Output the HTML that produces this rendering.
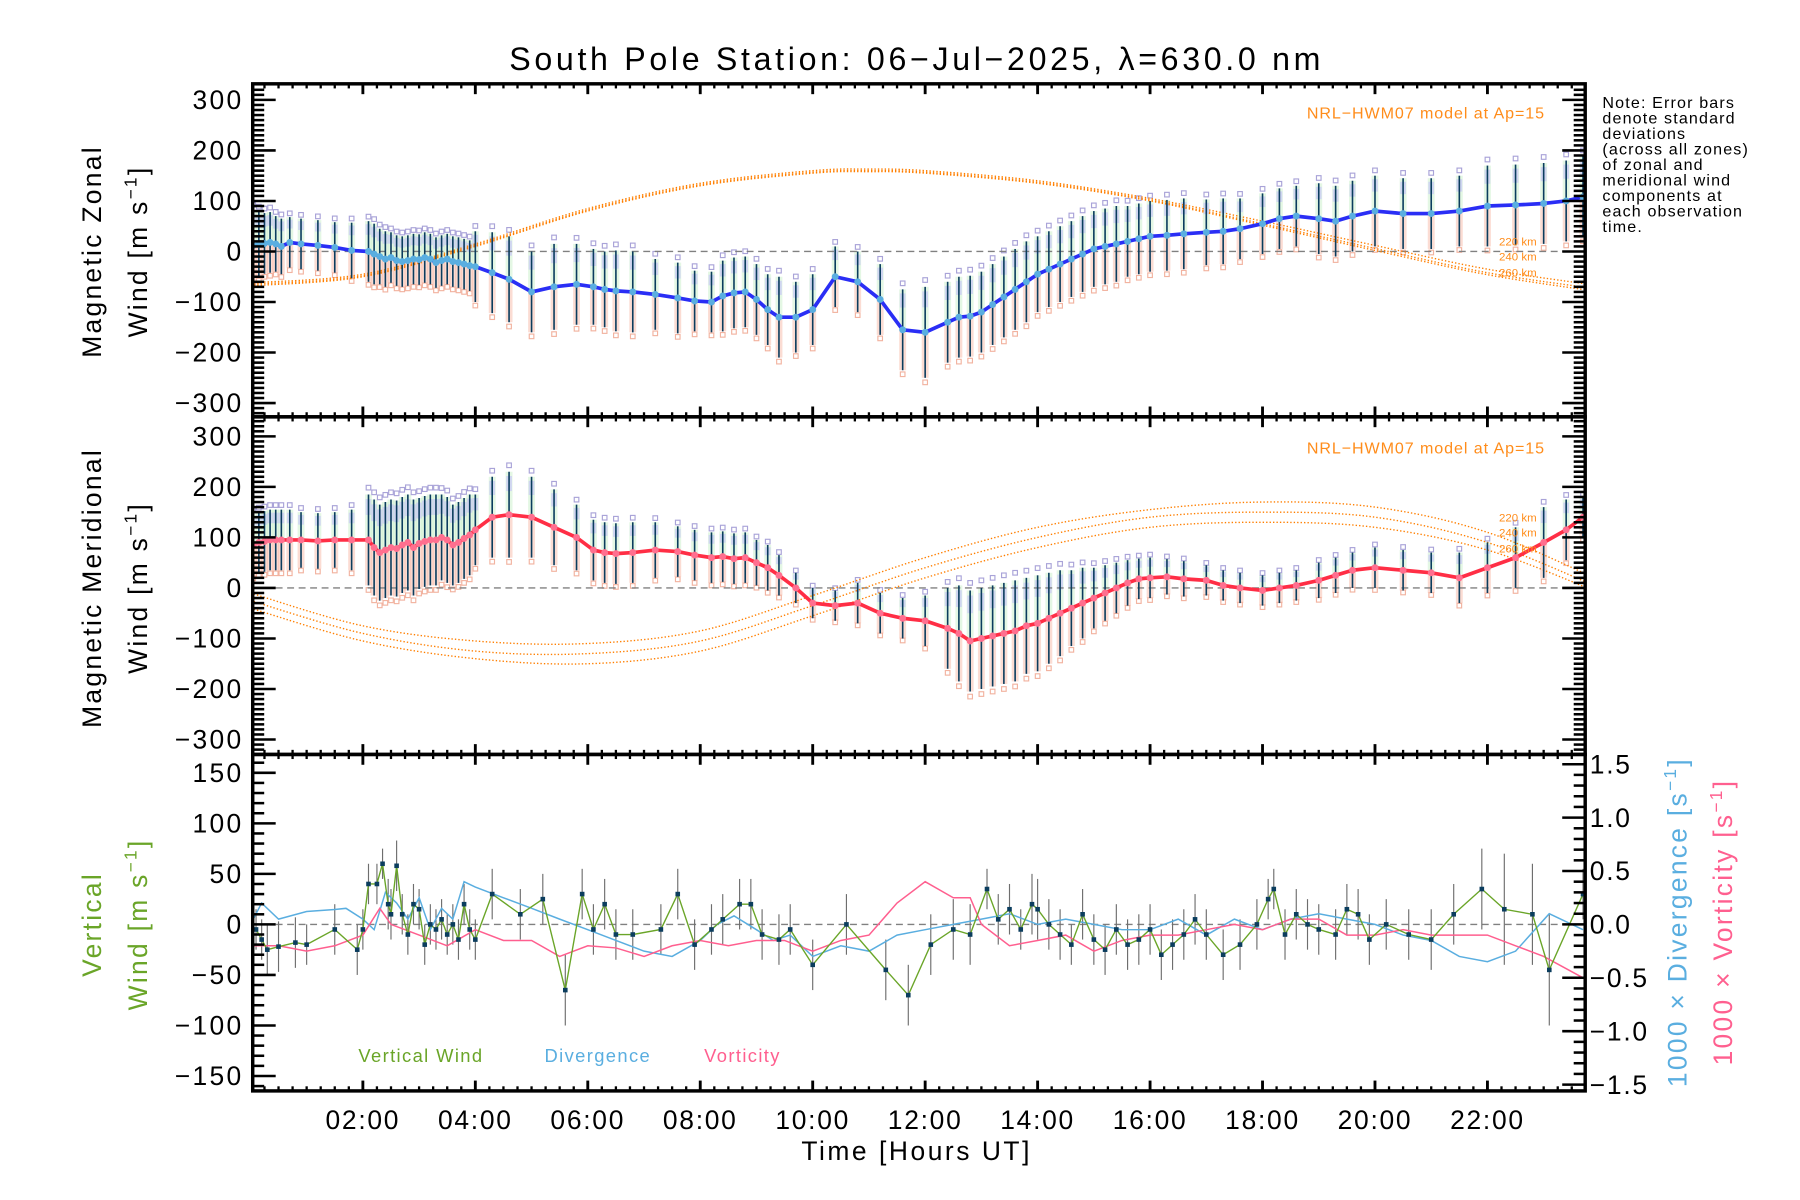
<!DOCTYPE html>
<html><head><meta charset="utf-8"><title>South Pole Station winds</title>
<style>
html,body{margin:0;padding:0;background:#fff;}
svg{display:block;font-family:"Liberation Sans",sans-serif;}
</style></head>
<body>
<svg id="chart" width="1800" height="1200" viewBox="0 0 1567 1045" preserveAspectRatio="none" xmlns="http://www.w3.org/2000/svg">
<rect x="0" y="0" width="1567" height="1045" fill="#fff"/>
<g id="layer"></g>
</svg>
<script>
// ---------- DATA ----------
var obsTimes = [0.05,0.15,0.25,0.35,0.45,0.55,0.7,0.9,1.2,1.5,
 1.8,2.1,2.2,2.3,2.4,2.5,2.6,2.7,2.8,2.9,
 3.0,3.1,3.2,3.3,3.4,3.5,3.6,3.7,3.8,3.9,
 4.0,4.3,4.6,5.0,5.4,5.8,6.1,6.3,6.5,6.8,
 7.2,7.6,7.9,8.2,8.4,8.6,8.8,9.0,9.2,9.4,
 9.7,10.0,10.4,10.8,11.2,11.6,12.0,12.4,12.6,12.8,
 13.0,13.2,13.4,13.6,13.8,14.0,14.2,14.4,14.6,14.8,
 15.0,15.2,15.4,15.6,15.8,16.0,16.3,16.6,17.0,17.3,
 17.6,18.0,18.3,18.6,19.0,19.3,19.6,20.0,20.5,21.0,
 21.5,22.0,22.5,23.0,23.4,23.7];
var zonalWind = [12,14,16,18,15,10,18,15,12,8,
 2,0,-5,-10,-15,-12,-18,-20,-18,-15,
 -16,-12,-15,-22,-18,-15,-20,-22,-25,-28,
 -30,-42,-55,-80,-70,-65,-70,-75,-78,-80,
 -85,-92,-98,-100,-88,-82,-80,-95,-115,-130,
 -130,-115,-50,-60,-95,-155,-160,-140,-130,-128,
 -120,-105,-90,-75,-60,-45,-35,-25,-15,-5,
 5,10,15,20,25,30,32,35,38,40,
 45,55,65,70,65,60,70,80,75,75,
 80,90,92,95,100,108];
var zonalErr = [70,65,60,60,55,55,50,50,50,50,
 55,60,60,55,55,50,50,50,50,50,
 50,50,50,50,50,50,50,50,50,50,
 70,80,85,80,85,80,75,75,80,80,
 70,70,60,60,70,70,70,70,70,80,
 70,70,60,60,70,80,90,80,80,80,
 80,80,80,80,80,75,75,75,75,75,
 75,75,75,70,70,70,70,70,65,65,
 60,60,60,60,70,70,70,70,70,70,
 70,80,80,80,80,80];
var meridWind = [85,90,92,95,95,95,95,95,93,95,
 95,95,80,70,75,80,78,85,90,80,
 88,92,95,95,100,95,85,90,98,105,
 115,140,145,140,120,100,75,70,68,70,
 75,72,65,60,62,58,60,50,40,25,
 0,-30,-35,-30,-50,-60,-65,-80,-90,-105,
 -100,-95,-90,-85,-75,-70,-60,-50,-40,-30,
 -20,-10,0,10,18,20,22,18,15,5,
 0,-5,0,5,15,25,35,40,35,30,
 20,40,60,90,115,140];
var meridErr = [60,60,60,60,60,60,60,55,55,55,
 60,90,95,95,95,95,95,95,95,95,
 90,90,90,90,85,85,80,80,80,80,
 70,80,85,80,75,65,60,60,60,60,
 55,50,50,50,50,50,50,45,45,40,
 30,30,30,40,40,40,50,80,95,100,
 100,100,100,100,95,95,90,85,75,70,
 60,55,50,45,40,40,35,35,30,30,
 30,30,30,30,35,35,35,40,40,40,
 50,50,60,70,60,40];

// HWM07 model curves
var modelHours = [0,2,4,6,8,10,11,12,14,16,18,20,22,24];
var hwmZonal220 = [-62,-45,15,85,135,160,163,160,140,105,60,12,-35,-68];
var hwmZonal240 = [-65,-48,12,82,132,157,160,157,137,102,55,6,-42,-75];
var hwmZonal260 = [-68,-50,10,80,130,155,158,155,135,100,52,2,-46,-80];
var modelHoursM = [0,2,4,6,8,10,12,14,16,18,20,22,24];
var hwmMerid220 = [-10,-75,-105,-110,-85,-15,60,120,155,170,160,110,15];
var hwmMerid240 = [-25,-90,-125,-130,-105,-35,40,100,140,150,140,90,0];
var hwmMerid260 = [-40,-105,-140,-150,-125,-55,20,80,120,130,120,75,-10];

// Vertical wind
var vertTimes = [0.1,0.2,0.3,0.5,0.8,1.0,1.5,1.9,2.0,2.1,2.25,2.35,2.45,2.5,2.6,2.7,2.8,2.9,3.0,3.1,3.2,3.3,3.4,3.5,3.6,3.7,3.8,3.9,4.0,4.3,4.8,5.2,5.6,5.9,6.1,6.3,6.5,6.8,7.3,7.6,7.9,8.2,8.4,8.7,8.9,9.1,9.4,9.6,10.0,10.6,11.3,11.7,12.1,12.5,12.8,13.1,13.3,13.5,13.7,13.9,14.0,14.2,14.4,14.6,14.8,15.0,15.2,15.4,15.6,15.8,16.0,16.2,16.4,16.6,16.8,17.0,17.3,17.6,17.9,18.1,18.2,18.4,18.6,18.8,19.0,19.3,19.5,19.7,19.9,20.2,20.6,21.0,21.4,21.9,22.3,22.8,23.1,23.7];
var vertWind = [-5,-15,-25,-22,-18,-20,-5,-25,-5,40,40,60,20,10,58,10,-10,20,15,-20,0,-5,5,-10,0,-15,20,-5,-15,30,10,25,-65,30,-5,20,-10,-10,-5,30,-20,-5,5,20,20,-10,-15,-5,-40,0,-45,-70,-20,-5,-10,35,5,15,-5,20,15,0,-10,-20,10,-15,-25,-5,-20,-15,-5,-30,-20,-10,5,-10,-30,-20,0,25,35,-10,10,0,-5,-10,15,10,-15,0,-10,-15,10,35,15,10,-45,30];
var vertErr = [20,20,25,25,25,20,25,25,20,20,20,15,25,25,25,20,20,20,20,20,20,20,20,20,20,20,20,20,20,25,25,25,35,25,25,25,25,25,25,25,25,25,25,25,25,25,25,25,25,30,30,30,30,30,30,20,25,25,20,30,30,25,25,20,25,25,25,25,25,25,25,25,25,25,25,25,25,25,25,20,20,25,25,25,25,25,25,25,25,25,25,30,30,40,55,50,55,25];
// Divergence and vorticity (x1000, s^-1)
var divTimes = [0,0.2,0.5,1.0,1.5,1.7,2.0,2.2,2.4,2.6,2.8,3.0,3.2,3.4,3.6,3.8,4.0,4.5,5.0,5.5,6.0,6.5,7.0,7.5,8.0,8.3,8.6,9.0,9.3,9.6,10.0,10.5,11.0,11.5,12.0,12.5,13.0,13.5,14.0,14.5,15.0,15.5,16.0,16.5,17.0,17.5,18.0,18.5,19.0,19.5,20.0,20.5,21.0,21.5,22.0,22.5,23.1,23.7];
var divergence = [0.0,0.2,0.05,0.12,0.14,0.15,0.05,-0.05,0.3,0.2,0.05,0.25,-0.05,0.15,0.05,0.4,0.35,0.25,0.15,0.05,-0.05,-0.15,-0.25,-0.3,-0.15,0.0,0.08,-0.05,-0.15,-0.1,-0.3,-0.2,-0.25,-0.1,-0.05,0.0,0.05,0.1,0.0,0.05,0.0,-0.05,-0.05,0.05,-0.1,0.05,-0.05,0.05,0.1,0.05,0.0,-0.1,-0.15,-0.3,-0.35,-0.25,0.1,-0.05];
var vortTimes = [0,0.5,1.0,1.5,2.0,2.3,2.5,3.0,3.5,4.0,4.5,5.0,5.5,6.0,6.5,7.0,7.5,8.0,8.5,9.0,9.5,10.0,10.5,11.0,11.5,12.0,12.5,12.8,13.0,13.5,14.0,14.5,15.0,15.5,16.0,16.5,17.0,17.5,18.0,18.5,19.0,19.5,20.0,20.5,21.0,21.5,22.0,22.5,23.0,23.7];
var vorticity = [-0.2,-0.2,-0.25,-0.2,-0.1,0.15,0.0,-0.1,-0.2,-0.05,-0.15,-0.15,-0.3,-0.2,-0.22,-0.3,-0.2,-0.15,-0.2,-0.15,-0.15,-0.25,-0.15,-0.1,0.2,0.4,0.25,0.25,0.0,-0.2,-0.15,-0.1,-0.25,-0.15,-0.1,-0.1,-0.05,0.0,-0.05,0.05,0.05,-0.1,-0.1,-0.05,-0.1,-0.1,-0.1,-0.2,-0.3,-0.5];

var xTickLabels = ["02:00","04:00","06:00","08:00","10:00","12:00","14:00","16:00","18:00","20:00","22:00"];
var windTickLabels = ["300","200","100","0","\u2212100","\u2212200","\u2212300"];
var vertTickLabels = ["150","100","50","0","\u221250","\u2212100","\u2212150"];
var rightTickLabels = ["1.5","1.0","0.5","0.0","\u22120.5","\u22121.0","\u22121.5"];

// ---------- LAYOUT ----------
var NS = "http://www.w3.org/2000/svg";
var L = document.getElementById("layer");
var PX0 = 220, PX1 = 1380;
function xs(h){ return 218 + h*48.95; }
var P1 = {top:73, bot:363, zero:219, k:0.44};
var P2 = {top:363, bot:657, zero:512, k:0.44};
var P3 = {top:657, bot:950, zero:805, k:0.88};
var R3 = {zero:805, k:93};
function ys(p,v){ return p.zero - v*p.k; }
function yr(v){ return R3.zero - v*R3.k; }
function el(tag, attrs, parent){
  var e = document.createElementNS(NS, tag);
  for (var k in attrs) e.setAttribute(k, attrs[k]);
  (parent||L).appendChild(e);
  return e;
}
function txt(s, attrs, parent){
  var e = el("text", attrs, parent);
  e.textContent = s;
  return e;
}
function smoothPath(xa, ya){
  var d = "M"+xa[0]+","+ya[0];
  for (var i=0;i<xa.length-1;i++){
    var x0=xa[Math.max(i-1,0)], y0=ya[Math.max(i-1,0)];
    var x1=xa[i], y1=ya[i], x2=xa[i+1], y2=ya[i+1];
    var x3=xa[Math.min(i+2,xa.length-1)], y3=ya[Math.min(i+2,ya.length-1)];
    d += " C"+(x1+(x2-x0)/6)+","+(y1+(y2-y0)/6)+" "+(x2-(x3-x1)/6)+","+(y2-(y3-y1)/6)+" "+x2+","+y2;
  }
  return d;
}
function poly(ta, va, fx, fy){
  return ta.map(function(t,i){ return fx(t).toFixed(1)+","+fy(va[i]).toFixed(1); }).join(" ");
}

var defs = el("defs",{});
[P1,P2,P3].forEach(function(p,i){
  var c = el("clipPath",{id:"clip"+i},defs);
  el("rect",{x:PX0,y:p.top,width:PX1-PX0,height:p.bot-p.top},c);
});

// ---------- TITLE ----------
var title = txt("South Pole Station: 06\u2212Jul\u22122025, \u03bb=630.0 nm",{x:798,y:61,"font-size":28,"letter-spacing":3.2,"text-anchor":"middle",fill:"#000"});



// ---------- WIND PANELS ----------
function windPanel(p, idx, vals, errs, lineColor, ptColor, hwmT, hwmSets, name){
  var g = el("g",{"clip-path":"url(#clip"+idx+")"});
  
  
  obsTimes.forEach(function(t,i){
    var x = xs(t), c = vals[i], e = errs[i];
    var b1 = el("rect",{x:x-3,y:ys(p,c),width:6,height:e*p.k,fill:"#f7b9a8",opacity:0.5},g);
    
    
    var b2 = el("rect",{x:x-3,y:ys(p,c+e),width:6,height:e*p.k,fill:"#c9f0c9",opacity:0.5},g);
    
    
    var b3 = el("rect",{x:x-2.5,y:ys(p,c+e*0.9),width:5,height:e*0.35*p.k,fill:"#c8c8f5",opacity:0.7},g);
    
    
    var sq = el("rect",{x:x-2,y:ys(p,c+e*1.15)-2,width:4,height:4,fill:"none",stroke:"#a9a3d8","stroke-width":1},g);
    
    
    var sq2 = el("rect",{x:x-2,y:ys(p,c-e*1.1)-2,width:4,height:4,fill:"none",stroke:"#f2b3a0","stroke-width":1},g);
    
    
  });
  var z = el("line",{x1:PX0,x2:PX1,y1:p.zero,y2:p.zero,stroke:"#808080","stroke-width":1.2,"stroke-dasharray":"6 4"},g);
  
  
  hwmSets.forEach(function(arr){
    var pth = el("path",{d:smoothPath(hwmT.map(xs), arr.map(function(v){return ys(p,v);})),fill:"none",stroke:"#ff7f00","stroke-width":1.2,"stroke-dasharray":"1.2 1.8"},g);
    
    
  });
  obsTimes.forEach(function(t,i){
    var x = xs(t);
    var eb = el("line",{x1:x,x2:x,y1:ys(p,vals[i]+errs[i]),y2:ys(p,vals[i]-errs[i]),stroke:"#0b3d5e","stroke-width":1.4},g);
    
    
  });
  var ml = el("polyline",{points:poly(obsTimes, vals, xs, function(v){return ys(p,v);}),fill:"none",stroke:lineColor,"stroke-width":3.2,"stroke-linejoin":"round"},g);
  
  
  obsTimes.forEach(function(t,i){
    var pt = el("circle",{cx:xs(t),cy:ys(p,vals[i]),r:3,fill:ptColor},g);
    
    
  });
}
windPanel(P1,0,zonalWind,zonalErr,"#2a2ef5","#5aaee0",modelHours,[hwmZonal220,hwmZonal240,hwmZonal260],"zonal-wind");
windPanel(P2,1,meridWind,meridErr,"#ff2e45","#ff6f8f",modelHoursM,[hwmMerid220,hwmMerid240,hwmMerid260],"meridional-wind");

// ---------- VERTICAL PANEL ----------
var g3 = el("g",{"clip-path":"url(#clip2)"});


var z3 = el("line",{x1:PX0,x2:PX1,y1:P3.zero,y2:P3.zero,stroke:"#808080","stroke-width":1.2,"stroke-dasharray":"6 4"},g3);


vertTimes.forEach(function(t,i){
  var x = xs(t);
  var eb = el("line",{x1:x,x2:x,y1:ys(P3,vertWind[i]+vertErr[i]),y2:ys(P3,vertWind[i]-vertErr[i]),stroke:"#6e6e6e","stroke-width":1},g3);
  
  
});
var dl = el("polyline",{points:poly(divTimes,divergence,xs,yr),fill:"none",stroke:"#5aaee0","stroke-width":1.3},g3);


var vl = el("polyline",{points:poly(vortTimes,vorticity,xs,yr),fill:"none",stroke:"#ff5f8f","stroke-width":1.3},g3);


var wl = el("polyline",{points:poly(vertTimes,vertWind,xs,function(v){return ys(P3,v);}),fill:"none",stroke:"#6aa528","stroke-width":1.2},g3);


vertTimes.forEach(function(t,i){
  var r = el("rect",{x:xs(t)-2,y:ys(P3,vertWind[i])-2,width:4,height:4,fill:"#0b3d5e"},g3);
  
  
});

// ---------- AXES ----------
function frame(p, name){
  var r = el("rect",{x:PX0,y:p.top,width:PX1-PX0,height:p.bot-p.top,fill:"none",stroke:"#000","stroke-width":3});
  
  
}
function xTicks(p){
  for (var q=0.25; q<23.75; q+=0.25){
    var major = Math.abs(q/2 - Math.round(q/2))<1e-6;
    var len = major?9:4;
    var x = xs(q);
    var a = el("line",{x1:x,x2:x,y1:p.bot,y2:p.bot-len,stroke:"#000","stroke-width":major?2.5:2});
    
    
    var b = el("line",{x1:x,x2:x,y1:p.top,y2:p.top+len,stroke:"#000","stroke-width":major?2.5:2});
    
    
  }
}
function yTicks(p, minorStep, majorStep, vmax, labels, right){
  for (var v=-vmax; v<=vmax+1e-6; v+=minorStep){
    var y = ys(p,v);
    if (y<p.top+1 || y>p.bot-1) continue;
    var major = Math.abs(v/majorStep - Math.round(v/majorStep))<1e-6;
    var len = major?20:10;
    var a = el("line",{x1:PX0,x2:PX0+len,y1:y,y2:y,stroke:"#000","stroke-width":2.2});
    
    
    if (right){
      var b = el("line",{x1:PX1,x2:PX1-len,y1:y,y2:y,stroke:"#000","stroke-width":2.2});
      
      
    }
  }
  labels.forEach(function(s,i){
    var v = (labels.length-1)/2*majorStep - i*majorStep;
    var t = txt(s,{x:212,y:ys(p,v)+8,"font-size":23,"letter-spacing":2,"text-anchor":"end",fill:"#000"});
    
    
  });
}

frame(P1,"zonal-panel"); frame(P2,"meridional-panel"); frame(P3,"vertical-panel");
xTicks(P1); xTicks(P2); xTicks(P3);
yTicks(P1,10,100,330,windTickLabels,true);
yTicks(P2,10,100,330,windTickLabels,true);
yTicks(P3,10,50,170,vertTickLabels,false);
for (var rv=-15; rv<=15; rv+=1){
  var v = rv/10, y = yr(v);
  if (y<P3.top+1 || y>P3.bot-1) continue;
  var major = rv%5===0;
  var len = major?20:10;
  var tk = el("line",{x1:PX1,x2:PX1-len,y1:y,y2:y,stroke:"#000","stroke-width":2.2});
  
  
}
rightTickLabels.forEach(function(s,i){
  var t = txt(s,{x:1384,y:yr(1.5-i*0.5)+8,"font-size":23,"letter-spacing":1.5,fill:"#000"});
  
  
});
xTickLabels.forEach(function(s,i){
  var t = txt(s,{x:xs(2+2*i),y:983,"font-size":23,"letter-spacing":1.5,"text-anchor":"middle",fill:"#000"});
  
  
});
</script>

<svg style="position:absolute;left:0;top:0" width="1800" height="1200" viewBox="0 0 1567 1045" preserveAspectRatio="none" xmlns="http://www.w3.org/2000/svg">
  <text x="798" y="1010" font-size="23" letter-spacing="2.2" text-anchor="middle" font-family="Liberation Sans, sans-serif">Time [Hours UT]</text>
  <g font-family="Liberation Sans, sans-serif" font-size="23" letter-spacing="2" text-anchor="middle">
    <text transform="translate(88,219) rotate(-90)">Magnetic Zonal</text>
    <text transform="translate(128,219) rotate(-90)">Wind [m s<tspan font-size="15" dy="-9">−1</tspan><tspan dy="9">]</tspan></text>
  </g>
  <g font-family="Liberation Sans, sans-serif" font-size="23" letter-spacing="2" text-anchor="middle">
    <text transform="translate(88,512) rotate(-90)">Magnetic Meridional</text>
    <text transform="translate(128,512) rotate(-90)">Wind [m s<tspan font-size="15" dy="-9">−1</tspan><tspan dy="9">]</tspan></text>
  </g>
  <g font-family="Liberation Sans, sans-serif" font-size="23" letter-spacing="2" text-anchor="middle" fill="#6aa528">
    <text transform="translate(88,805) rotate(-90)">Vertical</text>
    <text transform="translate(128,805) rotate(-90)">Wind [m s<tspan font-size="15" dy="-9">−1</tspan><tspan dy="9">]</tspan></text>
  </g>
  <text transform="translate(1468,803) rotate(-90)" font-family="Liberation Sans, sans-serif" font-size="23" letter-spacing="2" text-anchor="middle" fill="#5aaee0">1000 × Divergence [s<tspan font-size="15" dy="-9">−1</tspan><tspan dy="9">]</tspan></text>
  <text transform="translate(1508,803) rotate(-90)" font-family="Liberation Sans, sans-serif" font-size="23" letter-spacing="2" text-anchor="middle" fill="#ff5f8f">1000 × Vorticity [s<tspan font-size="15" dy="-9">−1</tspan><tspan dy="9">]</tspan></text>
  <g font-family="Liberation Sans, sans-serif" font-size="14" letter-spacing="1" fill="#000">
    <text x="1395" y="94">Note: Error bars</text>
    <text x="1395" y="107.5">denote standard</text>
    <text x="1395" y="121">deviations</text>
    <text x="1395" y="134.5">(across all zones)</text>
    <text x="1395" y="148">of zonal and</text>
    <text x="1395" y="161.5">meridional wind</text>
    <text x="1395" y="175">components at</text>
    <text x="1395" y="188.5">each observation</text>
    <text x="1395" y="202">time.</text>
  </g>
  <text x="1345" y="103" font-family="Liberation Sans, sans-serif" font-size="14" letter-spacing="0.8" text-anchor="end" fill="#ff8c1a">NRL−HWM07 model at Ap=15</text>
  <text x="1345" y="395" font-family="Liberation Sans, sans-serif" font-size="14" letter-spacing="0.8" text-anchor="end" fill="#ff8c1a">NRL−HWM07 model at Ap=15</text>
  <g font-family="Liberation Sans, sans-serif" font-size="10" fill="#ff8c1a">
    <text x="1305" y="214">220 km</text><text x="1305" y="227">240 km</text><text x="1305" y="241">260 km</text>
  </g>
  <g font-family="Liberation Sans, sans-serif" font-size="10" fill="#ff8c1a">
    <text x="1305" y="454">220 km</text><text x="1305" y="467">240 km</text><text x="1305" y="481">260 km</text>
  </g>
  <g font-family="Liberation Sans, sans-serif" font-size="16" letter-spacing="1.2">
    <text x="312" y="925" fill="#6aa528">Vertical Wind</text>
    <text x="474" y="925" fill="#5aaee0">Divergence</text>
    <text x="613" y="925" fill="#ff5f8f">Vorticity</text>
  </g>
</svg>
</body></html>
